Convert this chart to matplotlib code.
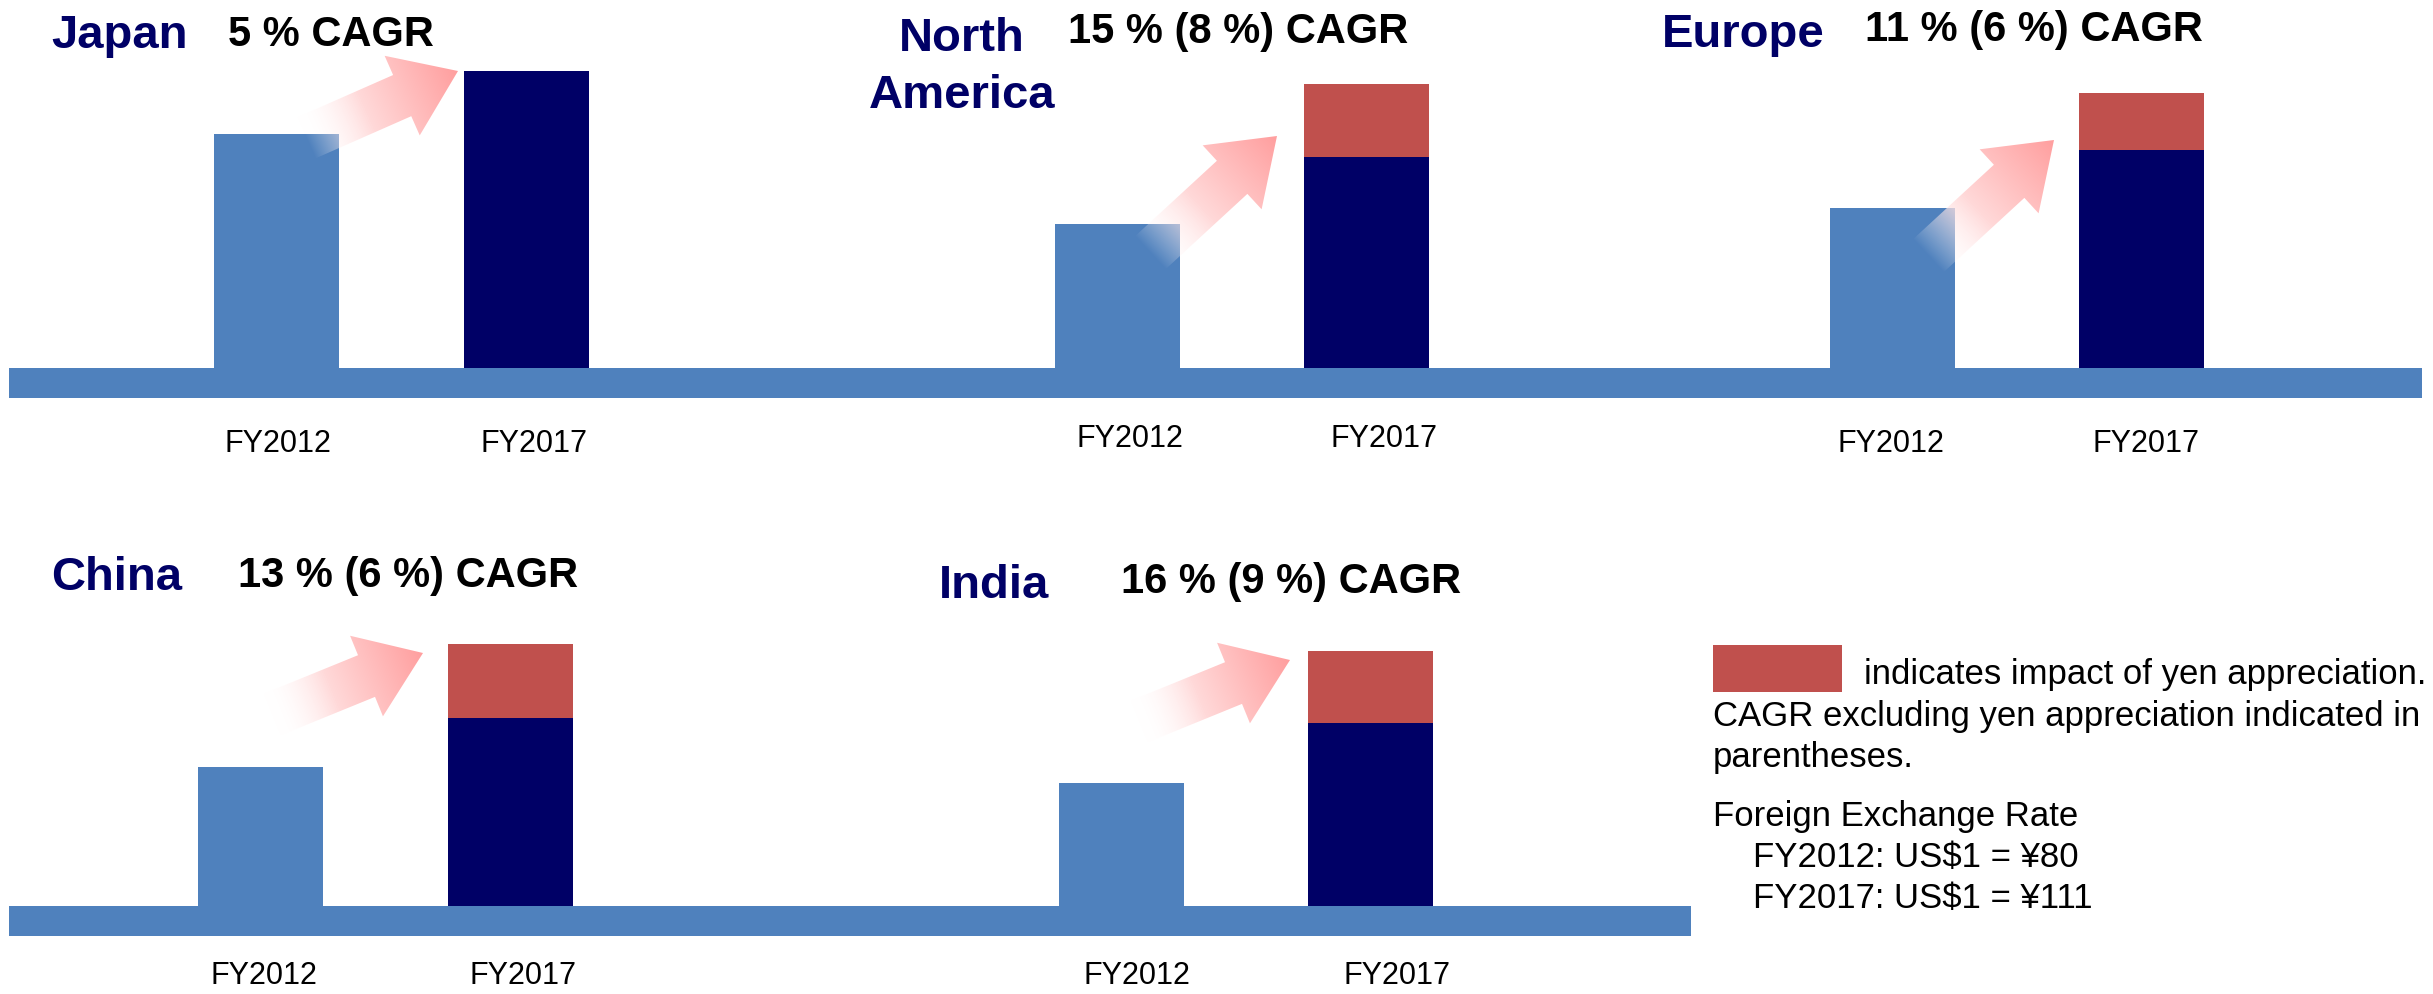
import numpy as np
import matplotlib
matplotlib.use('Agg')
import matplotlib.pyplot as plt
from matplotlib.patches import Polygon, Rectangle

plt.rcParams['font.family'] = ['Liberation Sans', 'DejaVu Sans']

# ---------------- data ----------------
regions = ['Japan', 'North America', 'Europe', 'China', 'India']
cagr_labels = ['5 % CAGR', '15 % (8 %) CAGR', '11 % (6 %) CAGR',
               '13 % (6 %) CAGR', '16 % (9 %) CAGR']
years = ['FY2012', 'FY2017']
sales_fy2012 = [234, 144, 160, 139, 123]
sales_fy2017_ex_fx = [297, 211, 218, 188, 183]
fx_impact_fy2017 = [0, 73, 57, 74, 72]
legend_text = 'indicates impact of yen appreciation.'
note_lines = ['CAGR excluding yen appreciation indicated in', 'parentheses.']
fx_title = 'Foreign Exchange Rate'
fx_rates = ['FY2012: US$1 = \u00a580', 'FY2017: US$1 = \u00a5111']

# ---------------- style / layout ----------------
BLUE = '#4F81BD'
NAVY = '#000066'
RED = '#C0504D'
PINK = (1.0, 0.62, 0.62)
W, H = 2433, 994
BAR_W = 125

row_of = [0, 0, 0, 1, 1]
band_top = [368, 906]
band_x = [(9, 2422), (9, 1691)]
band_h = 30
bar_centers = [(276, 526), (1117, 1366), (1892, 2141), (260, 510), (1121, 1370)]
label_x = [(278, 534), (1130, 1384), (1891, 2146), (264, 523), (1137, 1397)]
label_y = [452, 447, 452, 984, 984]
title_pos = [(51, 48), (962, 51), (1662, 47), (51, 590), (939, 598)]
cagr_pos = [(228, 46), (1068, 43), (1865, 41), (238, 587), (1121, 593)]
arrow_tail = [(306, 138), (1150, 253), (1928, 256), (271, 715), (1138, 722)]
arrow_tip = [(458, 71), (1277, 136), (2054, 140), (423, 653), (1290, 660)]

fig = plt.figure(figsize=(W / 100, H / 100), dpi=100)
fig.patch.set_facecolor('white')

# row axes: data units for the bars
row_axes = []
for r in range(2):
    ax = fig.add_axes([0, 0, 1, 1])
    ax.set_xlim(0, W)
    ax.set_ylim(-(H - band_top[r]), band_top[r])
    ax.axis('off')
    ax.add_patch(Rectangle((band_x[r][0], -band_h), band_x[r][1] - band_x[r][0], band_h,
                           facecolor=BLUE, edgecolor='none'))
    row_axes.append(ax)

for i in range(len(regions)):
    ax = row_axes[row_of[i]]
    c1, c2 = bar_centers[i]
    ax.bar([c1], [sales_fy2012[i]], width=BAR_W, color=BLUE, linewidth=0)
    ax.bar([c2], [sales_fy2017_ex_fx[i]], width=BAR_W, color=NAVY, linewidth=0)
    if fx_impact_fy2017[i] > 0:
        ax.bar([c2], [fx_impact_fy2017[i]], bottom=[sales_fy2017_ex_fx[i]],
               width=BAR_W, color=RED, linewidth=0)

# overlay axes in pixel coordinates for annotations
ov = fig.add_axes([0, 0, 1, 1], zorder=5)
ov.set_facecolor('none')
ov.axis('off')


def gradient_arrow(ax, tail, tip, shaft_w=45, head_w=87, head_l=61, rgb=PINK):
    T = np.array(tail, float)
    P = np.array(tip, float)
    d = P - T
    L = np.hypot(*d)
    u = d / L
    n = np.array([-u[1], u[0]])
    B = P - u * head_l
    pts = np.array([T + n * shaft_w / 2, B + n * shaft_w / 2, B + n * head_w / 2, P,
                    B - n * head_w / 2, B - n * shaft_w / 2, T - n * shaft_w / 2])
    x0, y0 = pts.min(0) - 2
    x1, y1 = pts.max(0) + 2
    nx, ny = int((x1 - x0) * 2), int((y1 - y0) * 2)
    xs = np.linspace(x0, x1, nx)
    ys = np.linspace(y0, y1, ny)
    X, Y = np.meshgrid(xs, ys)
    t = ((X - T[0]) * u[0] + (Y - T[1]) * u[1]) / L
    t = np.clip(t, 0, 1)
    img = np.zeros((ny, nx, 4))
    for k in range(3):
        img[..., k] = 1 - (1 - rgb[k]) * t
    img[..., 3] = np.clip(t * 2.5, 0, 1)
    poly = Polygon(pts, closed=True, transform=ax.transData,
                   facecolor='none', edgecolor='none')
    ax.add_patch(poly)
    im = ax.imshow(img, extent=(x0, x1, y1, y0), origin='upper', aspect='auto',
                   interpolation='bilinear', zorder=2)
    im.set_clip_path(poly)


for i in range(len(regions)):
    gradient_arrow(ov, arrow_tail[i], arrow_tip[i])

ov.set_xlim(0, W)
ov.set_ylim(H, 0)

for i, name in enumerate(regions):
    tx, ty = title_pos[i]
    words = name.split(' ')
    if len(words) > 1:
        for k, wd in enumerate(words):
            ov.text(tx, ty + 57 * k, wd, ha='center', va='baseline', fontsize=34,
                    fontweight='bold', color=NAVY)
    else:
        ov.text(tx, ty, name, ha='left', va='baseline', fontsize=34,
                fontweight='bold', color=NAVY)
    cx, cy = cagr_pos[i]
    ov.text(cx, cy, cagr_labels[i], ha='left', va='baseline', fontsize=30,
            fontweight='bold', color='black')
    for j, yr in enumerate(years):
        ov.text(label_x[i][j], label_y[i], yr, ha='center', va='baseline',
                fontsize=22, color='black')

# legend / notes
ov.add_patch(Rectangle((1713, 645), 129, 47, facecolor=RED, edgecolor='none'))
ov.text(1864, 684, legend_text, ha='left', va='baseline', fontsize=25, color='black')
ov.text(1713, 726, note_lines[0], ha='left', va='baseline', fontsize=25, color='black')
ov.text(1713, 767, note_lines[1], ha='left', va='baseline', fontsize=25, color='black')
ov.text(1713, 826, fx_title, ha='left', va='baseline', fontsize=25, color='black')
ov.text(1753, 867, fx_rates[0], ha='left', va='baseline', fontsize=25, color='black')
ov.text(1753, 908, fx_rates[1], ha='left', va='baseline', fontsize=25, color='black')

fig.savefig('out.png', dpi=100, facecolor='white')
